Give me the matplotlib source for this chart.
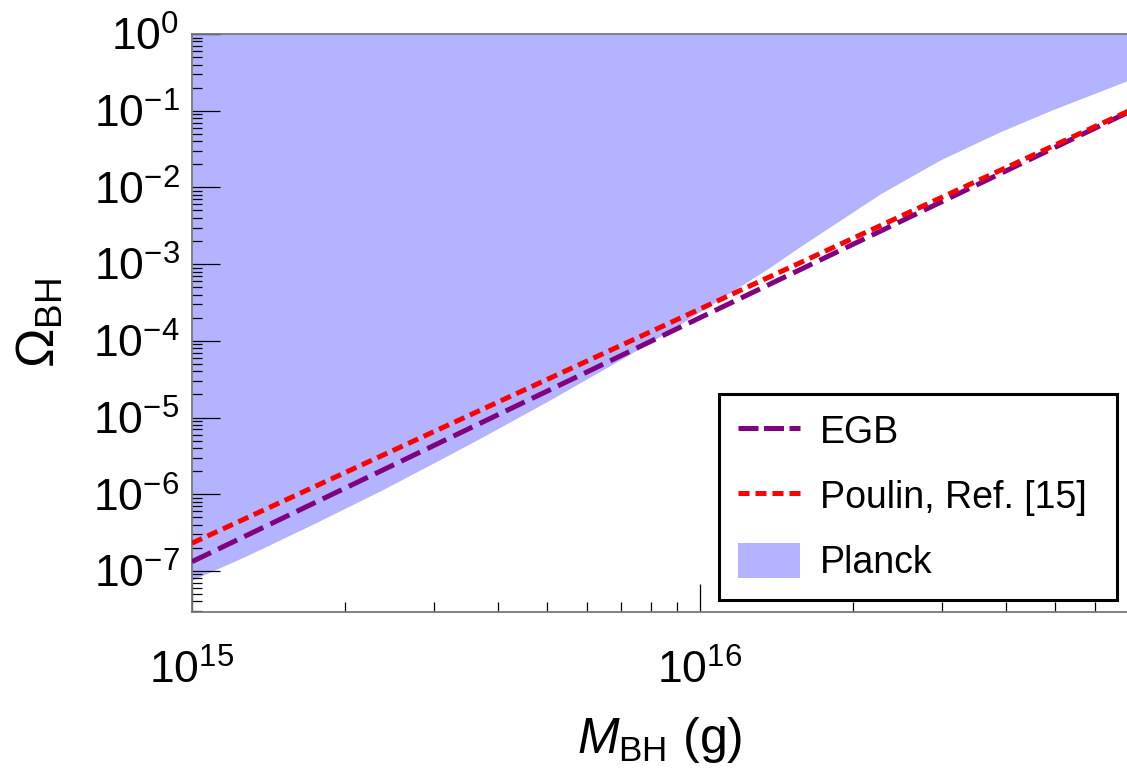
import numpy as np
import matplotlib
matplotlib.use('Agg')
import matplotlib.pyplot as plt
from matplotlib.ticker import LogLocator, NullFormatter
from matplotlib.patches import Patch
from matplotlib.lines import Line2D

plt.rcParams['font.family'] = ['Liberation Sans', 'DejaVu Sans']
plt.rcParams['mathtext.fontset'] = 'custom'
plt.rcParams['mathtext.rm'] = 'Liberation Sans'
plt.rcParams['mathtext.it'] = 'Liberation Sans:italic'
plt.rcParams['mathtext.bf'] = 'Liberation Sans:bold'

# ---- data ----
mass_lines = [1e15, 1e16, 7e16]
omega_egb = [1.32e-7, 2.0e-4, 0.097]
omega_poulin = [2.3e-7, 2.6e-4, 0.10]

mass_planck = [1.0e15, 1.28e15, 1.73e15, 2.35e15, 3.18e15, 3.69e15, 5.07e15, 7.18e15,
               9.02e15, 1.08e16, 1.36e16, 1.57e16, 1.89e16, 2.26e16, 2.97e16, 3.9e16,
               4.89e16, 6.93e16]
omega_planck = [7.6e-8, 1.57e-7, 4.07e-7, 1.11e-6, 3.17e-6, 5.36e-6, 1.70e-5, 6.35e-5,
                1.56e-4, 3.33e-4, 8.71e-4, 1.67e-3, 3.75e-3, 8.18e-3, 2.28e-2, 5.32e-2,
                0.100, 0.246]
omega_top = 1.0

labels = ['EGB', 'Poulin, Ref. [15]', 'Planck']

W, H = 1127, 777
fig = plt.figure(figsize=(W / 100, H / 100), dpi=100)
left, right, top, bottom = 192, 1127, 34, 612
ax = fig.add_axes([left / W, (H - bottom) / H, (right - left) / W, (bottom - top) / H])

ax.set_xscale('log')
ax.set_yscale('log')

planck_col = '#B3B3FF'
ax.fill_between(mass_planck, omega_planck, omega_top, color=planck_col, lw=0, zorder=1)
ax.plot(mass_lines, omega_egb, color='#800080', lw=3.6, dashes=(4.2, 1.6),
        dash_capstyle='butt', zorder=3)
ax.plot(mass_lines, omega_poulin, color='#FF0000', lw=3.6, dashes=(2.2, 1.2),
        dash_capstyle='butt', zorder=4)

ax.set_xlim(1e15, 10 ** (15 + (right - left) / 508.0))
ax.set_ylim(10 ** (-(bottom - top) / 76.7), 1.0)

ax.xaxis.set_major_locator(LogLocator(base=10, numticks=20))
ax.yaxis.set_major_locator(LogLocator(base=10, numticks=20))
ax.xaxis.set_minor_locator(LogLocator(base=10, subs=np.arange(2, 10), numticks=20))
ax.yaxis.set_minor_locator(LogLocator(base=10, subs=np.arange(2, 10), numticks=20))
ax.xaxis.set_minor_formatter(NullFormatter())
ax.yaxis.set_minor_formatter(NullFormatter())

ax.tick_params(which='major', direction='in', length=20, width=0.9, color='black',
               labelsize=32)
ax.tick_params(which='minor', direction='in', length=7, width=0.9, color='black')
ax.tick_params(axis='y', which='major', pad=9)
ax.tick_params(axis='x', which='major', pad=27)

for s in ['left', 'bottom', 'top']:
    ax.spines[s].set_color('#777777')
    ax.spines[s].set_linewidth(1.3)
ax.spines['right'].set_visible(False)

ax.set_xlabel(r'$M_{\mathrm{BH}}$ (g)', fontsize=36, labelpad=16)
ax.set_ylabel(r'$\Omega_{\mathrm{BH}}$', fontsize=38, labelpad=20)

handles = [
    Line2D([], [], color='#800080', lw=3.6, dashes=(4.0, 1.1), dash_capstyle='butt'),
    Line2D([], [], color='#FF0000', lw=3.6, dashes=(2.2, 1.2), dash_capstyle='butt'),
    Patch(facecolor=planck_col, edgecolor='none'),
]
leg = ax.legend(handles, labels, loc='lower left', mode='expand',
                bbox_to_anchor=(719 / W, (H - 600) / H, (1117 - 719) / W, (600 - 392) / H),
                bbox_transform=fig.transFigure,
                fontsize=27, frameon=True, fancybox=False, framealpha=1,
                edgecolor='black', borderpad=0.5, handlelength=1.65,
                handleheight=1.05, handletextpad=0.55, labelspacing=0.72,
                borderaxespad=0)
leg.get_frame().set_linewidth(2.2)
leg.set_zorder(10)

fig.savefig('out.png', dpi=100)
